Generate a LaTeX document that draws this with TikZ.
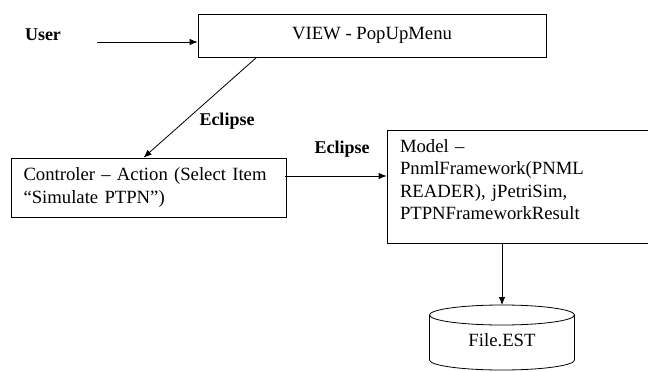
\documentclass[tikz,border=0pt]{standalone}
\usepackage{fontspec}
\setmainfont{Liberation Serif}
\usetikzlibrary{arrows.meta}

\tikzset{
	box/.style={draw, line width=0.8pt, inner sep=0pt},
	lbl/.style={font=\fontsize{18}{23}\selectfont\bfseries},
}

\begin{document}
\begin{tikzpicture}[x=1pt, y=-1pt, line width=0.8pt, >={Latex[length=8pt,width=6.5pt]}, font=\fontsize{18.7}{22.5}\selectfont]
	\useasboundingbox (0,0) rectangle (648,372);
	
	%view and user
	\node[lbl] (user) at (43,35){User};
	\coordinate (userend) at (97,42);
	\node[box, minimum width=348pt, minimum height=43pt] (view) at (372,35.5){VIEW - PopUpMenu};
	\draw[->] (userend) -- (view.west |- userend);
	
	%controler
	\node[box, minimum width=275pt, minimum height=59pt, text width=250pt, align=left] (ctrl) at (148.5,187.5){Controler – Action (Select Item\\“Simulate PTPN”)};
	\draw[->] ([xshift=59pt]view.south west) -- ([xshift=133pt]ctrl.north west);
	\node[lbl] (ecl1) at (227,121){Eclipse};
	
	%model
	\node[box, minimum width=261pt, minimum height=113pt, text width=235pt, align=left] (model) at (517.5,186.5){Model –\\PnmlFramework(PNML\\READER), jPetriSim,\\PTPNFrameworkResult\\[-9pt]\mbox{}};
	\coordinate (ctrlout) at (285,176);
	\draw[->] (ctrlout) -- (model.west |- ctrlout);
	\node[lbl] (ecl2) at (342,149){Eclipse};
	
	%file
	\node (file) at (502,340){File.EST};
	\coordinate (filetop) at (502,305);
	\draw (502,315) ellipse [x radius=72.5pt, y radius=10pt];
	\draw (429.5,315) -- (429.5,360) arc[start angle=180, end angle=360, x radius=72.5pt, y radius=10pt] -- (574.5,315);
	\draw[->] (model.south -| filetop) -- (filetop);
\end{tikzpicture}
\end{document}
